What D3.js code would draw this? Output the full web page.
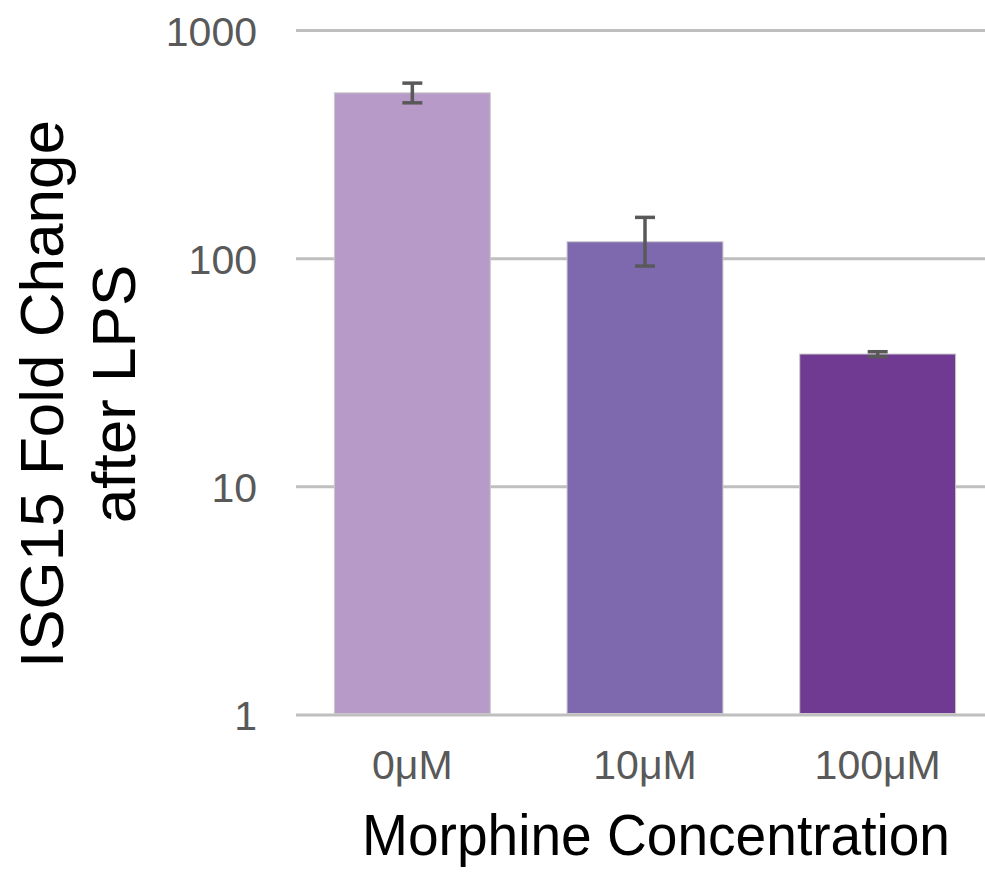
<!DOCTYPE html>
<html>
<head>
<meta charset="utf-8">
<script src="https://cdn.jsdelivr.net/npm/d3@7"></script>
<style>
  html, body { margin: 0; padding: 0; background: #fff; }
  svg { display: block; }
</style>
</head>
<body>
<svg id="chart" width="985" height="874"></svg>
<script>
const categories = ["0μM", "10μM", "100μM"];
const values = [533, 118.6, 38.2];
const errLow = [482, 92.8, 37.2];
const errHigh = [588, 151.7, 39.1];
const barColors = ["#b89ac8", "#7e69ae", "#703a93"];
const yTicks = [1, 10, 100, 1000];
const yTitleLines = ["ISG15 Fold Change", "after LPS"];
const xTitle = "Morphine Concentration";

const svg = d3.select("#chart");
const W = 985, H = 874;
const plotLeft = 296, plotRight = 994;
const yTop = 30.5, yBottom = 715;

const x = d3.scaleBand().domain(categories).range([plotLeft, plotRight]).paddingInner(0.33).paddingOuter(0.165);
const y = d3.scaleLog().domain([1, 1000]).range([yBottom, yTop]);

// gridlines
svg.append("g").selectAll("line").data(yTicks).join("line")
  .attr("x1", plotLeft).attr("x2", W)
  .attr("y1", d => y(d)).attr("y2", d => y(d))
  .attr("stroke", "#bfbfbf").attr("stroke-width", 3);

// y axis labels
const yAxis = d3.axisLeft(y).tickValues(yTicks).tickFormat(d3.format("d")).tickSize(0).tickPadding(0);
const gy = svg.append("g").attr("transform", `translate(257,0)`).call(yAxis);
gy.select(".domain").remove();
gy.selectAll("text").attr("font-family", "Liberation Sans, Arial, sans-serif")
  .attr("font-size", 41).attr("fill", "#595959").attr("dy", "0.36em");

// bars
svg.append("g").selectAll("rect").data(categories).join("rect")
  .attr("x", d => x(d)).attr("width", x.bandwidth())
  .attr("y", (d, i) => y(values[i])).attr("height", (d, i) => yBottom - 1.5 - y(values[i]))
  .attr("fill", (d, i) => barColors[i])
  .attr("stroke", "#c8c8c8").attr("stroke-width", 1);

// error bars
const eg = svg.append("g").attr("stroke", "#595959").attr("stroke-width", 3.5);
categories.forEach((c, i) => {
  const cx = x(c) + x.bandwidth() / 2;
  eg.append("line").attr("x1", cx).attr("x2", cx).attr("y1", y(errHigh[i])).attr("y2", y(errLow[i]));
  eg.append("line").attr("x1", cx - 10).attr("x2", cx + 10).attr("y1", y(errHigh[i])).attr("y2", y(errHigh[i]));
  eg.append("line").attr("x1", cx - 10).attr("x2", cx + 10).attr("y1", y(errLow[i])).attr("y2", y(errLow[i]));
});

// x axis labels
const xAxis = d3.axisBottom(x).tickSize(0).tickPadding(0);
const gx = svg.append("g").attr("transform", `translate(0,779)`).call(xAxis);
gx.select(".domain").remove();
gx.selectAll("text").attr("font-family", "Liberation Sans, Arial, sans-serif")
  .attr("font-size", 41).attr("fill", "#595959").attr("dy", 0);

// x title
svg.append("text").attr("x", 656).attr("y", 855).attr("text-anchor", "middle")
  .attr("font-family", "Liberation Sans, Arial, sans-serif").attr("font-size", 57)
  .attr("fill", "#000").attr("textLength", 588).attr("lengthAdjust", "spacingAndGlyphs")
  .text(xTitle);

// y title
const yt = svg.append("text").attr("transform", "translate(0,394) rotate(-90)")
  .attr("text-anchor", "middle").attr("font-family", "Liberation Sans, Arial, sans-serif")
  .attr("font-size", 62).attr("fill", "#000");
yt.append("tspan").attr("x", 0).attr("y", 63).text(yTitleLines[0]);
yt.append("tspan").attr("x", 0).attr("y", 135).text(yTitleLines[1]);
</script>
</body>
</html>
